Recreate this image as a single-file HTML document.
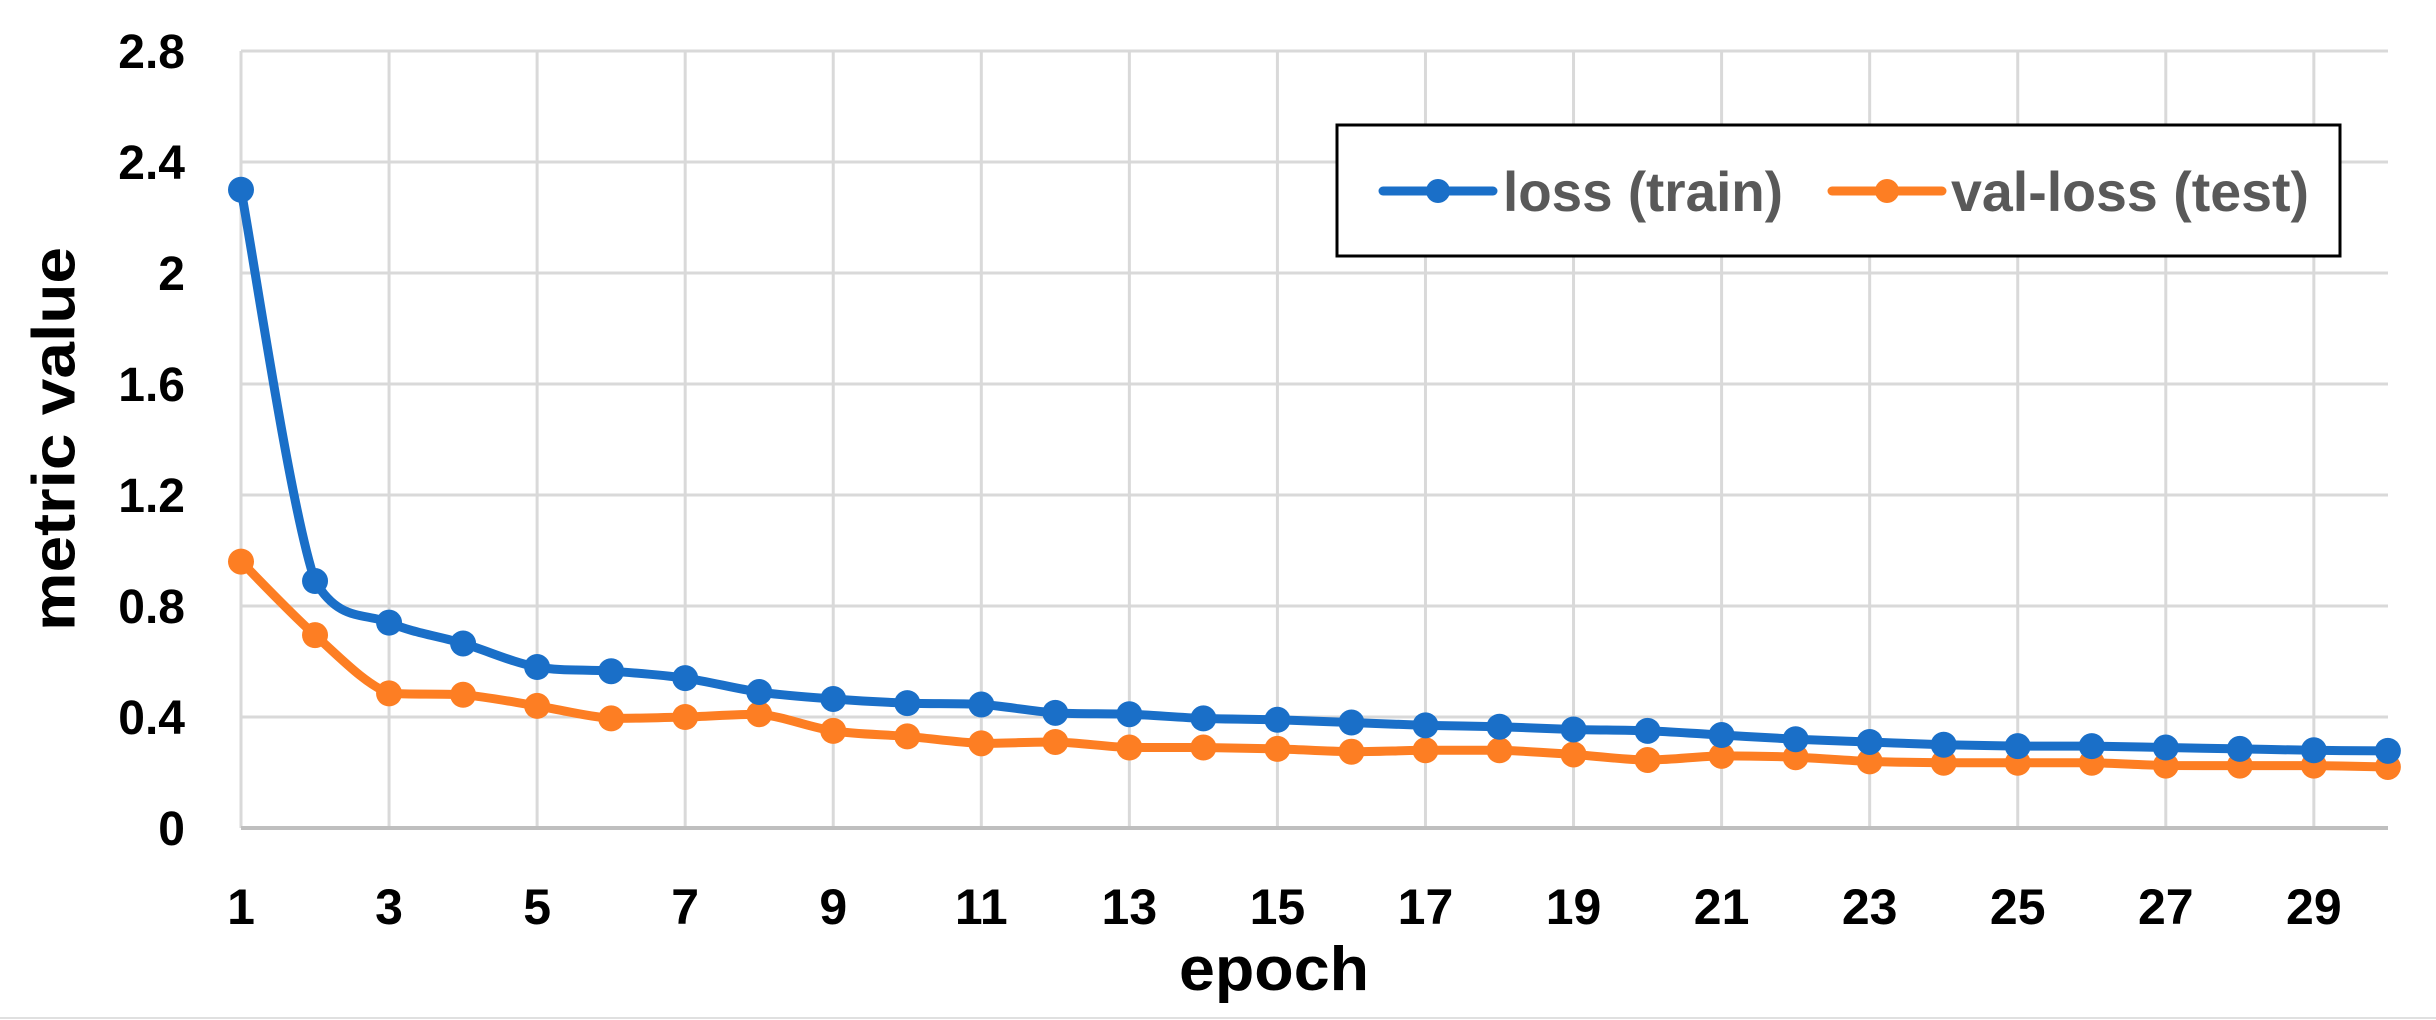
<!DOCTYPE html>
<html><head><meta charset="utf-8"><style>
html,body{margin:0;padding:0;background:#fff;}
svg{display:block;}
text{font-family:"Liberation Sans",Arial,sans-serif;font-weight:bold;}
</style></head><body>
<svg id="s" width="2436" height="1020" viewBox="0 0 2436 1020" xmlns="http://www.w3.org/2000/svg">
<rect width="2436" height="1020" fill="#fff"/>
<g id="grid"></g>
<g id="series"></g>
<g id="labels" fill="#000"></g>
<text x="54" y="439" font-size="60" text-anchor="middle" dominant-baseline="central" transform="rotate(-90 54 439)" textLength="384" lengthAdjust="spacingAndGlyphs">metric value</text>
<text x="1274" y="990" font-size="62" text-anchor="middle" textLength="190" lengthAdjust="spacingAndGlyphs">epoch</text>
<rect x="1337" y="125" width="1003" height="131" fill="#fff" stroke="#000" stroke-width="3"/>
<line x1="1383" y1="191" x2="1493" y2="191" stroke="#1a6fc8" stroke-width="9" stroke-linecap="round"/>
<circle cx="1438" cy="191" r="12" fill="#1a6fc8"/>
<text x="1503" y="211" font-size="56" fill="#595959" textLength="280" lengthAdjust="spacingAndGlyphs">loss (train)</text>
<line x1="1832" y1="191" x2="1942" y2="191" stroke="#fd7e23" stroke-width="9" stroke-linecap="round"/>
<circle cx="1887" cy="191" r="12" fill="#fd7e23"/>
<text x="1951" y="211" font-size="56" fill="#595959" textLength="358" lengthAdjust="spacingAndGlyphs">val-loss (test)</text>
<line x1="0" y1="1018" x2="2436" y2="1018" stroke="#e0e0e0" stroke-width="2"/>
</svg>
<script>
var NS="http://www.w3.org/2000/svg";
var X0=241,DX=74.03,Y0=828,KY=277.5,XR=2388;
function X(e){return X0+(e-1)*DX;}
function Y(v){return Y0-v*KY;}
function el(p,t,a,txt){var e=document.createElementNS(NS,t);for(var k in a)e.setAttribute(k,a[k]);if(txt!=null)e.textContent=txt;p.appendChild(e);return e;}
var g=document.getElementById('grid'),lb=document.getElementById('labels'),sr=document.getElementById('series');
var yl=["0","0.4","0.8","1.2","1.6","2","2.4","2.8"];
for(var i=0;i<8;i++){var y=Y(i*0.4);
 if(i>0)el(g,'line',{x1:X0,y1:y,x2:XR,y2:y,stroke:'#d9d9d9','stroke-width':3});
 el(lb,'text',{x:185,y:y+17,'font-size':48,'text-anchor':'end'},yl[i]);}
for(var e=1;e<=29;e+=2){var x=X(e);
 el(g,'line',{x1:x,y1:Y(2.8),x2:x,y2:Y0,stroke:'#d9d9d9','stroke-width':3});
 el(lb,'text',{x:x,y:924,'font-size':50,'text-anchor':'middle'},String(e));}
el(g,'line',{x1:X0,y1:Y0,x2:XR,y2:Y0,stroke:'#bfbfbf','stroke-width':4});
var blue=[2.3,0.89,0.74,0.665,0.58,0.565,0.54,0.49,0.465,0.45,0.445,0.415,0.41,0.395,0.39,0.38,0.37,0.365,0.355,0.35,0.335,0.32,0.31,0.30,0.295,0.295,0.29,0.285,0.28,0.278];
var orng=[0.96,0.695,0.485,0.48,0.44,0.395,0.40,0.41,0.35,0.33,0.305,0.31,0.29,0.29,0.285,0.275,0.28,0.28,0.265,0.245,0.26,0.255,0.24,0.235,0.235,0.235,0.225,0.225,0.225,0.22];
function cl(v,a,b){var lo=Math.min(a,b),hi=Math.max(a,b);return Math.max(lo,Math.min(hi,v));}
function draw(d,c){var p=d.map(function(v,i){return[X(i+1),Y(v)];});
 var s="M"+p[0][0]+","+p[0][1];
 for(var i=0;i<p.length-1;i++){var p0=p[Math.max(i-1,0)],p1=p[i],p2=p[i+1],p3=p[Math.min(i+2,p.length-1)],t=1/6;
  var c1y=cl(p1[1]+(p2[1]-p0[1])*t,p1[1],p2[1]),c2y=cl(p2[1]-(p3[1]-p1[1])*t,p1[1],p2[1]);
  s+=" C"+(p1[0]+(p2[0]-p0[0])*t)+","+c1y+" "+(p2[0]-(p3[0]-p1[0])*t)+","+c2y+" "+p2[0]+","+p2[1];}
 el(sr,'path',{d:s,fill:'none',stroke:c,'stroke-width':9,'stroke-linejoin':'round'});
 p.forEach(function(q){el(sr,'ellipse',{cx:q[0],cy:q[1],rx:13,ry:13,fill:c});});}
draw(orng,'#fd7e23');draw(blue,'#1a6fc8');
</script>
</body></html>
